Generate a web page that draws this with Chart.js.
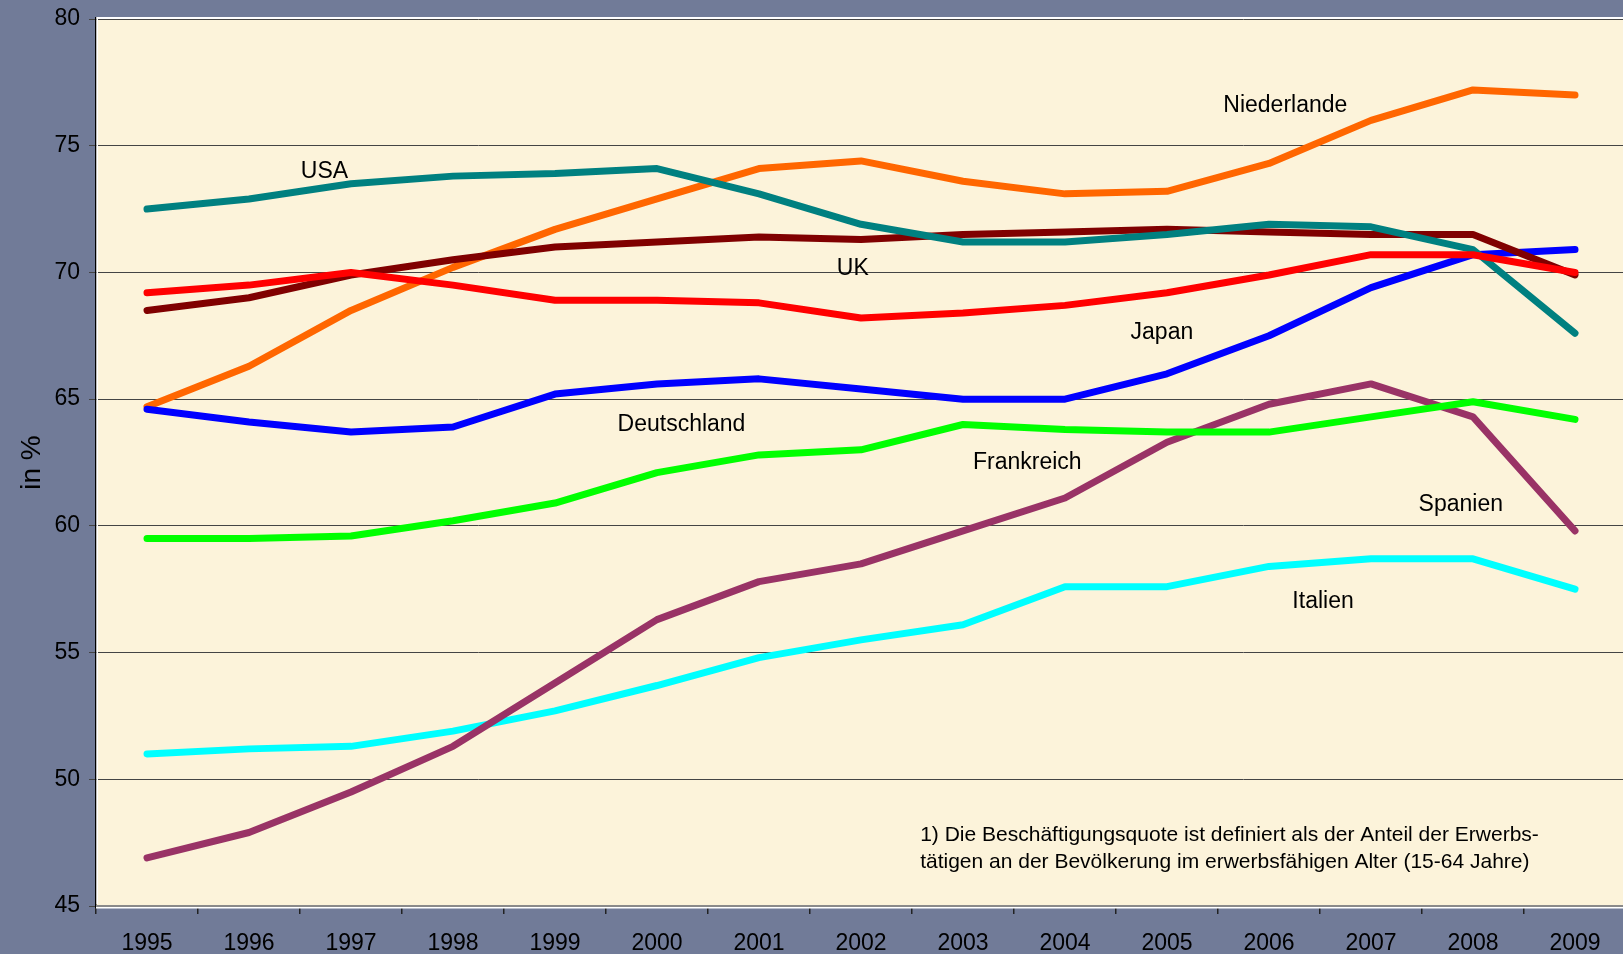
<!DOCTYPE html>
<html>
<head>
<meta charset="utf-8">
<script src="https://cdn.jsdelivr.net/npm/chart.js@4.4.1/dist/chart.umd.min.js"></script>
<style>
    html, body { margin: 0; padding: 0; background: #717b98; overflow: hidden; }
    #wrap { position: absolute; left: 0; top: 0; width: 1630px; height: 954px; }
</style>
</head>
<body>
<div id="wrap"><canvas id="chart"></canvas></div>
<script>
// ----------------------------------------------------
// Data (Beschäftigungsquote in %)
// ----------------------------------------------------
const years = ['1995', '1996', '1997', '1998', '1999', '2000', '2001', '2002',
               '2003', '2004', '2005', '2006', '2007', '2008', '2009'];

const japan       = [69.2, 69.5, 70.0, 69.5, 68.9, 68.9, 68.8, 68.2, 68.4, 68.7, 69.2, 69.9, 70.7, 70.7, 70.0];
const usa         = [72.5, 72.9, 73.5, 73.8, 73.9, 74.1, 73.1, 71.9, 71.2, 71.2, 71.5, 71.9, 71.8, 70.9, 67.6];
const uk          = [68.5, 69.0, 69.9, 70.5, 71.0, 71.2, 71.4, 71.3, 71.5, 71.6, 71.7, 71.6, 71.5, 71.5, 69.9];
const deutschland = [64.6, 64.1, 63.7, 63.9, 65.2, 65.6, 65.8, 65.4, 65.0, 65.0, 66.0, 67.5, 69.4, 70.7, 70.9];
const niederlande = [64.7, 66.3, 68.5, 70.2, 71.7, 72.9, 74.1, 74.4, 73.6, 73.1, 73.2, 74.3, 76.0, 77.2, 77.0];
const frankreich  = [59.5, 59.5, 59.6, 60.2, 60.9, 62.1, 62.8, 63.0, 64.0, 63.8, 63.7, 63.7, 64.3, 64.9, 64.2];
const spanien     = [46.9, 47.9, 49.5, 51.3, 53.8, 56.3, 57.8, 58.5, 59.8, 61.1, 63.3, 64.8, 65.6, 64.3, 59.8];
const italien     = [51.0, 51.2, 51.3, 51.9, 52.7, 53.7, 54.8, 55.5, 56.1, 57.6, 57.6, 58.4, 58.7, 58.7, 57.5];

const yTicks = [45, 50, 55, 60, 65, 70, 75, 80];

// series names placed in the plot: [text, category position, value]
const seriesLabels = [
    ['USA',          1.74, 73.99],
    ['UK',           6.92, 70.14],
    ['Niederlande', 11.16, 76.59],
    ['Japan',        9.95, 67.62],
    ['Deutschland',  5.24, 63.99],
    ['Frankreich',   8.63, 62.49],
    ['Spanien',     12.88, 60.84],
    ['Italien',     11.53, 57.0]
];

const footnote = [
    '1) Die Beschäftigungsquote ist definiert als der Anteil der Erwerbs-',
    'tätigen an der Bevölkerung im erwerbsfähigen Alter (15-64 Jahre)'
];

const FONT = "'Liberation Sans', Arial, sans-serif";

// ----------------------------------------------------
// Plot background, frame and in-chart texts
// ----------------------------------------------------
const decorations = {
    id: 'decorations',
    beforeDraw(chart) {
        const { ctx, chartArea: a } = chart;
        ctx.save();
        ctx.fillStyle = '#fcf3da';
        ctx.fillRect(a.left, a.top - 2, a.right - a.left + 10, a.bottom - a.top + 2);
        // white top edge
        ctx.fillStyle = '#ffffff';
        ctx.fillRect(a.left, a.top - 2, a.right - a.left + 10, 2);
        ctx.restore();
    },
    afterDraw(chart) {
        const { ctx, chartArea: a } = chart;
        ctx.save();
        // left axis: black + white
        ctx.fillStyle = '#000000';
        ctx.fillRect(a.left - 1, a.top - 2, 1.5, a.bottom - a.top + 4);
        ctx.fillStyle = '#ffffff';
        ctx.fillRect(a.left + 0.5, a.top - 2, 1.5, a.bottom - a.top);
        // bottom axis: grey + white
        ctx.fillStyle = '#8a8a8a';
        ctx.fillRect(a.left, a.bottom - 1, a.right - a.left + 10, 2);
        ctx.fillStyle = '#ffffff';
        ctx.fillRect(a.left, a.bottom + 1, a.right - a.left + 10, 1.5);

        // y axis title
        ctx.fillStyle = '#000000';
        ctx.font = '28px ' + FONT;
        ctx.textAlign = 'center';
        ctx.textBaseline = 'middle';
        ctx.translate(32, (a.top + a.bottom) / 2);
        ctx.rotate(-Math.PI / 2);
        ctx.fillText('in %', 0, 0);
        ctx.restore();
    },
    afterDatasetsDraw(chart) {
        const { ctx, scales: { x, y } } = chart;
        const step = x.getPixelForValue(1) - x.getPixelForValue(0);
        const px = pos => x.getPixelForValue(0) + pos * step;

        ctx.save();
        ctx.fillStyle = '#000000';
        ctx.textBaseline = 'middle';

        ctx.font = '23px ' + FONT;
        ctx.textAlign = 'center';
        seriesLabels.forEach(([text, pos, val]) => {
            ctx.fillText(text, px(pos), y.getPixelForValue(val));
        });

        ctx.font = '21px ' + FONT;
        ctx.textAlign = 'left';
        ctx.fillText(footnote[0], px(7.58), y.getPixelForValue(47.80));
        ctx.fillText(footnote[1], px(7.58), y.getPixelForValue(46.74));
        ctx.restore();
    }
};

// ----------------------------------------------------
// Chart
// ----------------------------------------------------
const line = (label, data, color) => ({
    label, data,
    borderColor: color,
    backgroundColor: color,
    borderWidth: 7,
    borderCapStyle: 'round',
    borderJoinStyle: 'round',
    pointRadius: 0,
    tension: 0,
    fill: false
});

Chart.defaults.font.family = FONT;
Chart.defaults.color = '#000000';

new Chart(document.getElementById('chart'), {
    type: 'line',
    data: {
        labels: years,
        datasets: [
            line('Japan', japan, '#ff0000'),
            line('USA', usa, '#008080'),
            line('UK', uk, '#800000'),
            line('Deutschland', deutschland, '#0000ff'),
            line('Niederlande', niederlande, '#ff6600'),
            line('Frankreich', frankreich, '#00ff00'),
            line('Spanien', spanien, '#993366'),
            line('Italien', italien, '#00ffff')
        ]
    },
    options: {
        responsive: true,
        maintainAspectRatio: false,
        animation: false,
        layout: { padding: { top: 19, right: 4, left: 0, bottom: 0 } },
        plugins: {
            legend: { display: false },
            tooltip: { enabled: false }
        },
        scales: {
            x: {
                offset: true,
                grid: {
                    offset: true,
                    drawOnChartArea: false,
                    color: '#222222',
                    lineWidth: 1.5,
                    tickLength: 8
                },
                border: { display: false },
                ticks: { font: { size: 23 }, color: '#000000', padding: 16, maxRotation: 0, autoSkip: false },
                afterFit: s => { s.height = 48; s.paddingLeft = 0; s.paddingRight = 0; }
            },
            y: {
                min: 45,
                max: 80,
                afterBuildTicks: s => { s.ticks = yTicks.map(v => ({ value: v })); },
                grid: { color: '#444444', lineWidth: 1, tickLength: 7 },
                border: { display: false },
                ticks: { font: { size: 23 }, color: '#000000', padding: 9 },
                afterFit: s => { s.width = 96; s.paddingTop = 0; s.paddingBottom = 0; }
            }
        }
    },
    plugins: [decorations]
});
</script>
</body>
</html>
